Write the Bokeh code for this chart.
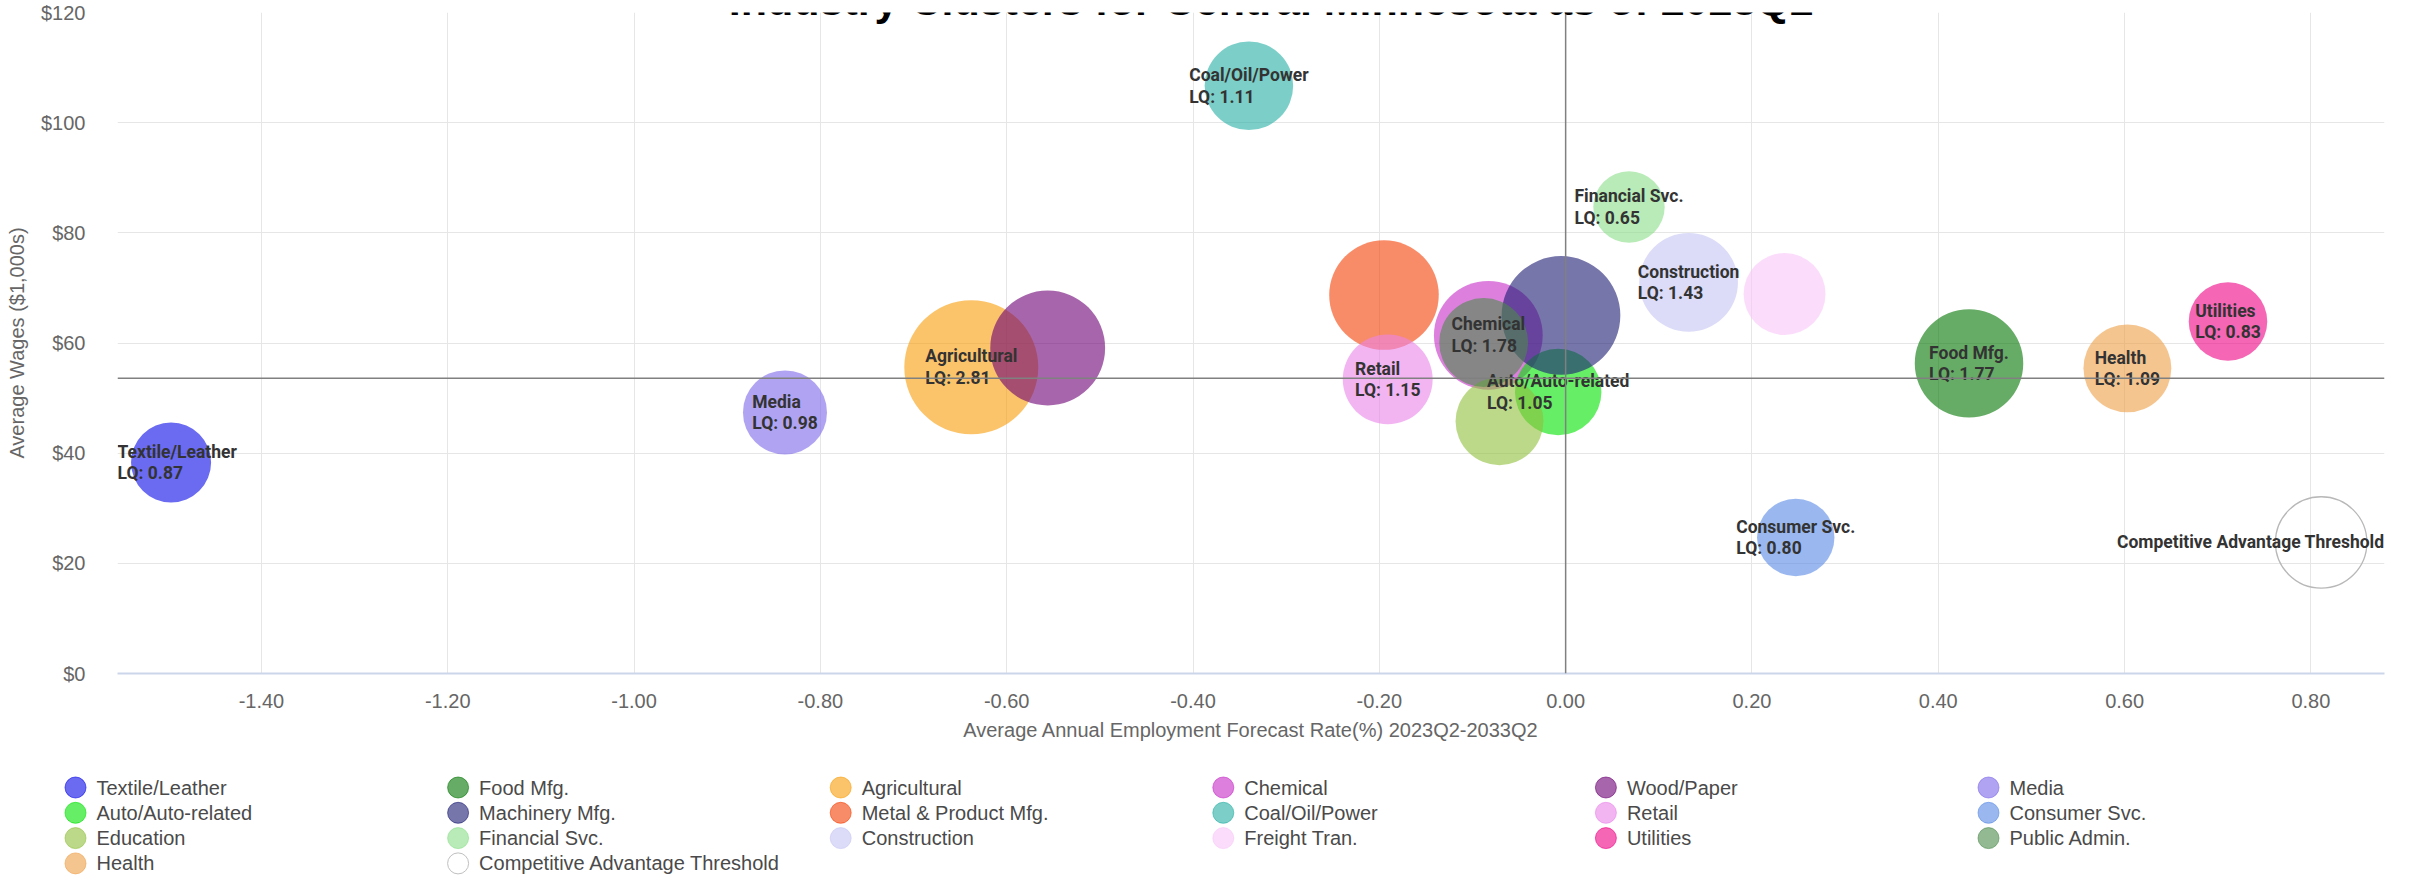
import numpy as np
from bokeh.plotting import figure
from bokeh.models import ColumnDataSource, Range1d, Span, Label, FixedTicker, NumeralTickFormatter
from bokeh.core.properties import value, field
from bokeh.embed import file_html
from bokeh.resources import INLINE

# ---------------- data ----------------
title_text = "Industry Clusters for Central Minnesota as of 2023Q2"
x_title = "Average Annual Employment Forecast Rate(%) 2023Q2-2033Q2"
y_title = "Average Wages ($1,000s)"

clusters = ["Textile/Leather", "Food Mfg.", "Agricultural", "Chemical", "Wood/Paper", "Media",
            "Auto/Auto-related", "Machinery Mfg.", "Metal & Product Mfg.", "Coal/Oil/Power", "Retail", "Consumer Svc.",
            "Education", "Financial Svc.", "Construction", "Freight Tran.", "Utilities", "Public Admin.",
            "Health", "Competitive Advantage Threshold"]
forecast_rate = [-1.497, 0.433, -0.638, -0.083, -0.556, -0.838,
                 -0.008, -0.005, -0.195, -0.340, -0.191, 0.247,
                 -0.071, 0.068, 0.132, 0.235, 0.711, -0.088,
                 0.603, 0.811]
avg_wage = [38.3, 56.3, 55.6, 61.4, 59.1, 47.4,
            51.1, 65.0, 68.7, 106.7, 53.4, 24.7,
            45.8, 84.7, 71.0, 68.9, 63.9, 60.1,
            55.4, 23.8]
location_quotient = [0.87, 1.77, 2.81, 1.78, 2.01, 0.98,
                     1.05, 2.16, 1.81, 1.11, 1.15, 0.80,
                     1.09, 0.65, 1.43, 0.92, 0.83, 1.12,
                     1.09, 1.20]
label_shown = [True, True, True, True, False, True,
               True, False, False, True, True, True,
               False, True, True, False, True, False,
               True, True]
threshold_series = "Competitive Advantage Threshold"
wage_threshold = 53.6
growth_threshold = 0.0

x_ticks = [-1.4, -1.2, -1.0, -0.8, -0.6, -0.4, -0.2, 0.0, 0.2, 0.4, 0.6, 0.8]
y_ticks = [0, 20, 40, 60, 80, 100, 120]
y_tick_labels = ["$0", "$20", "$40", "$60", "$80", "$100", "$120"]

# ---------------- style ----------------
display_colors = ["#6b6bf2", "#5fac5f", "#fbc46b", "#dd80dd", "#a75fab", "#b0a4f2",
                  "#55ee55", "#7676ab", "#f98c68", "#7ccfc8", "#f2b5f2", "#9ab8ef",
                  "#bcd98a", "#b8ebb8", "#dcdcf8", "#fbddfb", "#f55bb5", "#93b993",
                  "#f5c590", "#ffffff"]
ALPHA = 0.6
W, H_MAIN, H_LEG = 2410, 750, 128
B_LEFT, B_RIGHT, B_TOP, B_BOTTOM = 117, 26, 12, 77
X_START, X_END = -1.5545, 0.879
Y_START, Y_END = 0, 120
AXIS_FONT = "Liberation Sans"
LABEL_FONT = "Roboto"


def base_color(h):
    h = h.lstrip("#")
    rgb = [int(h[k:k + 2], 16) for k in (0, 2, 4)]
    out = [int(round(min(255, max(0, 255 - (255 - c) / ALPHA)))) for c in rgb]
    return "#%02x%02x%02x" % tuple(out)


def bubble_diameter(z):
    # bubble area grows linearly with the bubble value (LQ)
    return 2.0 * np.sqrt(308.0 + 1488.0 * z)


# ---------------- main chart ----------------
p = figure(width=W, height=H_MAIN,
           x_range=Range1d(X_START, X_END), y_range=Range1d(Y_START, Y_END),
           output_backend="svg", toolbar_location=None,
           min_border_left=B_LEFT, min_border_right=B_RIGHT,
           min_border_top=B_TOP, min_border_bottom=B_BOTTOM)
p.outline_line_color = None
p.background_fill_color = "white"
p.border_fill_color = "white"

for i, name in enumerate(clusters):
    src = ColumnDataSource(dict(x=[forecast_rate[i]], y=[avg_wage[i]],
                                size=[bubble_diameter(location_quotient[i])]))
    if name == threshold_series:
        p.scatter("x", "y", size="size", source=src, fill_color=None,
                  line_color="#b8b8b8", line_width=1.3)
    else:
        p.scatter("x", "y", size="size", source=src, fill_color=base_color(display_colors[i]),
                  fill_alpha=ALPHA, line_color=None)

# data labels
frame_w = W - B_LEFT - B_RIGHT
px_per_x = frame_w / (X_END - X_START)
lx, ly, lt, la = [], [], [], []
for i, name in enumerate(clusters):
    if not label_shown[i]:
        continue
    if name == threshold_series:
        txt = name
    else:
        txt = "%s\nLQ: %.2f" % (name, location_quotient[i])
    half_w = max(len(s) for s in txt.split("\n")) * 17.5 * 0.56 / 2
    xp = (forecast_rate[i] - X_START) * px_per_x
    if xp - half_w < 0:
        lx.append(X_START); la.append("center_left")
    elif xp + half_w > frame_w:
        lx.append(X_END); la.append("center_right")
    else:
        lx.append(forecast_rate[i]); la.append("center")
    ly.append(avg_wage[i])
    lt.append(txt)

lsrc = ColumnDataSource(dict(x=lx, y=ly, text=lt, anchor=la))
p.text(x="x", y="y", text="text", anchor=field("anchor"), source=lsrc,
       text_font=value(LABEL_FONT), text_font_style="bold", text_font_size="17.5px",
       text_color="#333333", text_align="left", text_line_height=1.08)

# reference lines
p.add_layout(Span(location=growth_threshold, dimension="height", line_color="#808080", line_width=1.5))
p.add_layout(Span(location=wage_threshold, dimension="width", line_color="#808080", line_width=1.5))

# axes
p.xaxis.ticker = FixedTicker(ticks=x_ticks)
p.xaxis.formatter = NumeralTickFormatter(format="0.00")
p.xaxis.axis_label = x_title
p.xaxis.axis_line_color = "#ccd6eb"
p.xaxis.axis_line_width = 2
p.xaxis.major_tick_line_color = None
p.xaxis.minor_tick_line_color = None
p.xaxis.major_label_standoff = 14
p.xaxis.axis_label_standoff = 8

p.yaxis.ticker = FixedTicker(ticks=y_ticks)
p.yaxis.major_label_overrides = {float(v): s for v, s in zip(y_ticks, y_tick_labels)}
p.yaxis.axis_label = y_title
p.yaxis.axis_line_color = None
p.yaxis.major_tick_line_color = None
p.yaxis.minor_tick_line_color = None
p.yaxis.major_label_standoff = 26
p.yaxis.axis_label_standoff = 10

for ax in (p.xaxis[0], p.yaxis[0]):
    ax.major_label_text_font = AXIS_FONT
    ax.major_label_text_font_size = "20px"
    ax.major_label_text_color = "#666666"
    ax.axis_label_text_font = AXIS_FONT
    ax.axis_label_text_font_size = "20px"
    ax.axis_label_text_font_style = "normal"
    ax.axis_label_text_color = "#666666"

p.xgrid.ticker = FixedTicker(ticks=x_ticks)
p.xgrid.grid_line_color = "#e6e6e6"
p.ygrid.grid_line_color = "#e6e6e6"

# title (its upper part is cut off at the top edge, as in the source)
px_per_y = (H_MAIN - B_TOP - B_BOTTOM) / (Y_END - Y_START)
p.add_layout(Label(x=-0.316, y=Y_END + 13.0 / px_per_y, text=title_text,
                   text_font=AXIS_FONT, text_font_size="43px", text_font_style="bold",
                   text_color="#000000", text_align="center", text_baseline="alphabetic"))

# ---------------- legend (separate root below the chart) ----------------
lg = figure(width=W, height=H_LEG, x_range=Range1d(0, W), y_range=Range1d(H_LEG, 0),
            output_backend="svg", toolbar_location=None,
            min_border=0, min_border_left=0, min_border_right=0, min_border_top=0, min_border_bottom=0)
lg.axis.visible = False
lg.grid.visible = False
lg.outline_line_color = None
lg.background_fill_color = "white"
lg.border_fill_color = "white"

N_COLS = 6
COL0, COL_STEP = 75, 382.6
ROW0, ROW_STEP = 37, 25.3
gx, gy, gfill, galpha, gline, tx = [], [], [], [], [], []
for i, name in enumerate(clusters):
    c, r = i % N_COLS, i // N_COLS
    gx.append(COL0 + c * COL_STEP)
    gy.append(ROW0 + r * ROW_STEP)
    tx.append(COL0 + c * COL_STEP + 21)
    if name == threshold_series:
        gfill.append("#ffffff"); galpha.append(1.0); gline.append("#c0c0c0")
    else:
        col = base_color(display_colors[i])
        gfill.append(col); galpha.append(ALPHA); gline.append(col)
gsrc = ColumnDataSource(dict(x=gx, y=gy, fill=gfill, alpha=galpha, line=gline, tx=tx, name=clusters))
lg.scatter("x", "y", size=21, source=gsrc, fill_color="fill", fill_alpha="alpha",
           line_color="line", line_alpha="alpha", line_width=1)
lg.text(x="tx", y="y", text="name", source=gsrc, text_font=value(AXIS_FONT), text_font_size="20px",
        text_color="#4a4a4a", text_align="left", text_baseline="middle")

html = file_html([p, lg], INLINE, title="Industry Clusters")
html = html.replace("<head>", "<head><style>html,body{margin:0;padding:0;}"
                    "body{display:flex;flex-direction:column;align-items:flex-start;}</style>", 1)
open("out.html", "w").write(html)
